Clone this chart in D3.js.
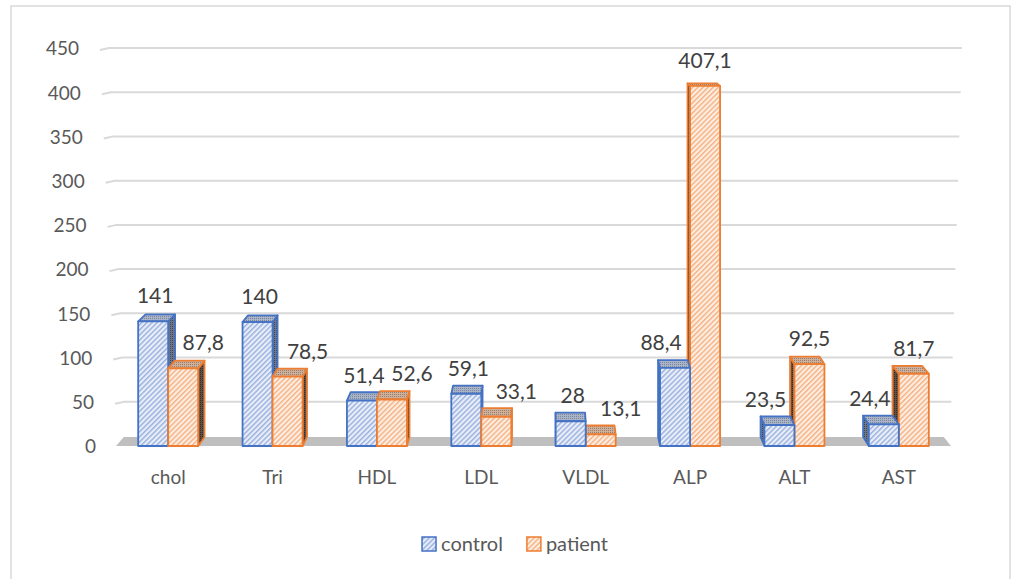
<!DOCTYPE html>
<html>
<head>
<meta charset="utf-8">
<script src="https://cdn.jsdelivr.net/npm/d3@7"></script>
<style>
  html, body { margin: 0; padding: 0; background: #ffffff; }
  svg { display: block; font-family: Lato, "Open Sans", sans-serif; }
</style>
</head>
<body>
<svg id="chart" width="1019" height="579"></svg>
<script>
// Lipid profile and liver enzymes, control vs patient
const categories = ["chol", "Tri", "HDL", "LDL", "VLDL", "ALP", "ALT", "AST"];
const seriesNames = ["control", "patient"];
const controlValues = [141, 140, 51.4, 59.1, 28, 88.4, 23.5, 24.4];
const patientValues = [87.8, 78.5, 52.6, 33.1, 13.1, 407.1, 92.5, 81.7];
const yTickValues = [0, 50, 100, 150, 200, 250, 300, 350, 400, 450];

const svg = d3.select("#chart");
const W = 1019, H = 579;

// outer chart frame
svg.append("rect")
  .attr("x", 11).attr("y", 6).attr("width", 999).attr("height", 600)
  .attr("fill", "#ffffff").attr("stroke", "#d9d9d9").attr("stroke-width", 1.5);

// scales
const x = d3.scaleBand().domain(categories).range([116, 951])
  .paddingInner(0.425).paddingOuter(0.2125);
const xs = d3.scaleBand().domain(seriesNames).range([0, x.bandwidth()]);
const y = d3.scaleLinear().domain([0, 450]).range([446, 48]);

// simple perspective: back faces pulled toward a vanishing point
const VX = 550, VY = -60, DEPTH = 0.018;
const back = ([px, py]) => [px + DEPTH * (VX - px), py + DEPTH * (VY - py)];

// fill patterns
const defs = svg.append("defs");
function hatch(id, bg, fg) {
  const p = defs.append("pattern").attr("id", id)
    .attr("patternUnits", "userSpaceOnUse")
    .attr("width", 3.6).attr("height", 3.6)
    .attr("patternTransform", "rotate(45)");
  p.append("rect").attr("width", 3.6).attr("height", 3.6).attr("fill", bg);
  p.append("rect").attr("width", 1.5).attr("height", 3.6).attr("fill", fg);
}
function dots(id, bg, fg) {
  const p = defs.append("pattern").attr("id", id)
    .attr("patternUnits", "userSpaceOnUse")
    .attr("width", 2).attr("height", 2);
  p.append("rect").attr("width", 2).attr("height", 2).attr("fill", bg);
  p.append("rect").attr("width", 1).attr("height", 1).attr("fill", fg);
}
hatch("hatch-control", "#e9eef8", "#9cb3e0");
hatch("hatch-patient", "#fdeee3", "#f5b487");
dots("top-control", "#aab4c8", "#7c869a");
dots("top-patient", "#cdb09b", "#9c7f6b");
dots("side-control", "#6f7787", "#3f4550");
dots("side-patient", "#5c5049", "#332b26");

const style = {
  control: { stroke: "#4472c4", front: "url(#hatch-control)", top: "url(#top-control)", side: "url(#side-control)" },
  patient: { stroke: "#ed7d31", front: "url(#hatch-patient)", top: "url(#top-patient)", side: "url(#side-patient)" }
};

// gridlines on the back wall with a short side-wall tail
const gridLeft = v => 117 - 17 * (v / 450);
const gridRight = v => 950 + 12 * (v / 450);
const grid = svg.append("g");
yTickValues.filter(v => v > 0).forEach(v => {
  const gy = y(v);
  grid.append("path")
    .attr("d", `M${gridLeft(v)},${gy + 2}L${gridLeft(v) + 9},${gy}L${gridRight(v)},${gy}`)
    .attr("fill", "none").attr("stroke", "#d9d9d9").attr("stroke-width", 2);
});

// floor
const [fx0, fx1] = x.range();
const fy = y(0);
svg.append("path")
  .attr("d", d3.line()([[fx0, fy], [fx1, fy], back([fx1, fy]), back([fx0, fy])]) + "Z")
  .attr("fill", "#bfbfbf");

// value axis
const yAxis = svg.append("g")
  .attr("transform", "translate(0,0)")
  .call(d3.axisLeft(y).tickValues(yTickValues).tickSize(0).tickPadding(0).tickFormat(d3.format("d")));
yAxis.select(".domain").remove();
yAxis.selectAll(".tick text")
  .attr("x", v => gridLeft(v) - 21)
  .attr("dy", "0.36em")
  .attr("fill", "#595959")
  .style("font-size", "19px")
  .style("font-family", "Lato, sans-serif");

// bars
const bars = [];
categories.forEach((c, i) => {
  seriesNames.forEach(s => {
    const v = s === "control" ? controlValues[i] : patientValues[i];
    const x0 = x(c) + xs(s), x1 = x0 + xs.bandwidth();
    bars.push({ c, s, v, x0, x1, yt: y(v), yb: y(0), cx: (x0 + x1) / 2 });
  });
});
bars.sort((a, b) => Math.abs(b.cx - VX) - Math.abs(a.cx - VX));

const barG = svg.append("g");
const line = d3.line();
bars.forEach(b => {
  const st = style[b.s];
  const FLT = [b.x0, b.yt], FRT = [b.x1, b.yt], FRB = [b.x1, b.yb], FLB = [b.x0, b.yb];
  const g = barG.append("g")
    .attr("stroke", st.stroke).attr("stroke-width", 1.8).attr("stroke-linejoin", "round");
  const side = b.cx < VX
    ? [FRT, FRB, back(FRB), back(FRT)]
    : [FLT, FLB, back(FLB), back(FLT)];
  g.append("path").attr("d", line(side) + "Z").attr("fill", st.side);
  g.append("path").attr("d", line([FLT, FRT, back(FRT), back(FLT)]) + "Z").attr("fill", st.top);
  g.append("path").attr("d", line([FLT, FRT, FRB, FLB]) + "Z").attr("fill", st.front);
});

// data labels (decimal comma)
const locale = d3.formatLocale({ decimal: ",", thousands: " ", grouping: [3], currency: ["", ""] });
const fmt = locale.format("~g");
const labelG = svg.append("g")
  .attr("text-anchor", "middle").attr("fill", "#404040")
  .style("font-size", "21px");
categories.forEach((c, i) => {
  const cv = controlValues[i], pv = patientValues[i];
  const patientTaller = pv > cv * 1.1;
  [["control", cv, patientTaller ? -14 : 2], ["patient", pv, patientTaller ? 0 : 20]].forEach(([s, v, dx]) => {
    const cx = x(c) + xs(s) + xs.bandwidth() / 2;
    labelG.append("text")
      .attr("x", cx + dx)
      .attr("y", y(v) - 18)
      .text(fmt(v));
  });
});

// category axis
const xAxis = svg.append("g")
  .attr("transform", `translate(0,${y(0) + 31})`)
  .call(d3.axisBottom(x).tickSize(0).tickPadding(0));
xAxis.select(".domain").remove();
xAxis.selectAll(".tick text")
  .attr("y", 0).attr("dy", "0.36em")
  .attr("fill", "#595959")
  .style("font-size", "19px")
  .style("font-family", "Lato, sans-serif");

// legend
const legend = svg.append("g");
let lx = 0;
const items = seriesNames.map(s => {
  const it = legend.append("g");
  it.append("rect").attr("x", 0).attr("y", -7).attr("width", 14).attr("height", 14)
    .attr("fill", style[s].front).attr("stroke", style[s].stroke).attr("stroke-width", 1.5);
  const t = it.append("text").attr("x", 19).attr("dy", "0.36em")
    .attr("fill", "#595959").style("font-size", "20px").text(s);
  it.attr("transform", `translate(${lx},0)`);
  lx += 19 + t.node().getComputedTextLength() + 24;
  return it;
});
const legendWidth = lx - 24;
legend.attr("transform", `translate(${515 - legendWidth / 2},544)`);
</script>
</body>
</html>
